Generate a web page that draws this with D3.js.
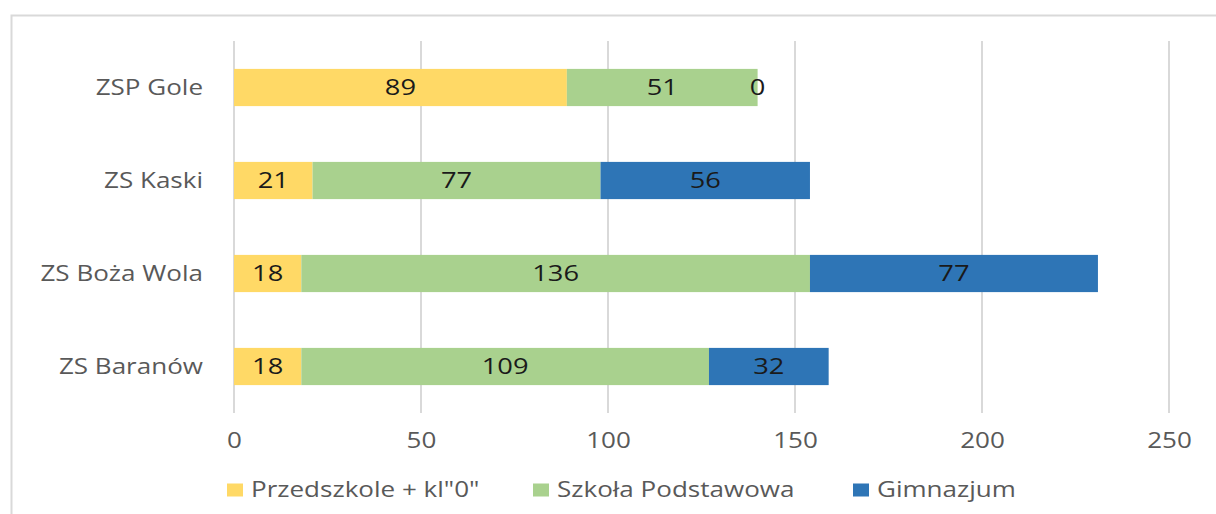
<!DOCTYPE html>
<html>
<head>
<meta charset="utf-8">
<script src="https://cdn.jsdelivr.net/npm/d3@7"></script>
<style>
  body { margin: 0; background: #fff; }
  svg text { font-family: "Open Sans", "Noto Sans", sans-serif; }
</style>
</head>
<body>
<svg width="1216" height="514"></svg>
<script>
// data
var schools = ["ZSP Gole", "ZS Kaski", "ZS Boża Wola", "ZS Baranów"];
var seriesNames = ["Przedszkole + kl\"0\"", "Szkoła Podstawowa", "Gimnazjum"];
var przedszkole = [89, 21, 18, 18];
var podstawowa = [51, 77, 136, 109];
var gimnazjum = [0, 56, 77, 32];
var ticks = [0, 50, 100, 150, 200, 250];
var colors = ["#FFD966", "#A9D18E", "#2E75B6"];

var svg = d3.select("svg"),
    width = +svg.attr("width"),
    height = +svg.attr("height");

// text in the original is stretched sideways
var sx = 1.24;

// chart frame
svg.append("path")
  .attr("d", "M11.5,514 L11.5,15.5 L1216,15.5")
  .attr("fill", "none")
  .attr("stroke", "#d9d9d9")
  .attr("stroke-width", 2);

var x = d3.scaleLinear().domain([0, 250]).range([234, 1169]);
var y = d3.scaleBand().domain(schools).range([41, 413]).paddingInner(0.6).paddingOuter(0.3);

// gridlines
svg.append("g")
  .selectAll("line")
  .data(ticks)
  .enter()
  .append("line")
    .attr("x1", function(d){ return x(d) })
    .attr("x2", function(d){ return x(d) })
    .attr("y1", 41)
    .attr("y2", 413)
    .attr("stroke", "#d9d9d9")
    .attr("stroke-width", 2);

// x axis labels
var xAxis = d3.axisBottom(x).tickValues(ticks).tickSize(0).tickPadding(0);
var gx = svg.append("g").attr("transform", "translate(0,448)").call(xAxis);
gx.select(".domain").remove();
gx.selectAll("text")
  .attr("y", 0)
  .attr("dy", 0)
  .attr("font-size", 21)
  .attr("font-family", "Open Sans")
  .attr("fill", "#595959")
  .attr("transform", "scale(" + sx + ",1)");

// y axis labels
var yAxis = d3.axisLeft(y).tickSize(0).tickPadding(0);
var gy = svg.append("g").attr("transform", "translate(203,0)").call(yAxis);
gy.select(".domain").remove();
gy.selectAll("text")
  .attr("x", 0)
  .attr("dy", "0.35em")
  .attr("font-size", 21)
  .attr("font-family", "Open Sans")
  .attr("fill", "#595959")
  .attr("transform", "scale(" + sx + ",1)");

// stacked bars
var rows = schools.map(function(s, i){
  return {school: s, a: przedszkole[i], b: podstawowa[i], c: gimnazjum[i]};
});
var stack = d3.stack().keys(["a", "b", "c"]);
var layers = stack(rows);

var layer = svg.append("g")
  .selectAll("g")
  .data(layers)
  .enter()
  .append("g")
    .attr("fill", function(d, i){ return colors[i] });

layer.selectAll("rect")
  .data(function(d){ return d })
  .enter()
  .append("rect")
    .attr("x", function(d){ return x(d[0]) })
    .attr("y", function(d){ return y(d.data.school) })
    .attr("width", function(d){ return x(d[1]) - x(d[0]) })
    .attr("height", y.bandwidth());

// data labels
layer.selectAll("text")
  .data(function(d){ return d })
  .enter()
  .append("text")
    .attr("transform", function(d){
      return "translate(" + (x(d[0]) + x(d[1])) / 2 + "," + (y(d.data.school) + y.bandwidth() / 2) + ") scale(" + sx + ",1)";
    })
    .attr("dy", "0.36em")
    .attr("text-anchor", "middle")
    .attr("font-size", 22)
    .attr("fill", "#1a1a1a")
    .text(function(d){ return d[1] - d[0] });

// legend
var legendX = [227, 533, 853];
var legend = svg.append("g")
  .selectAll("g")
  .data(seriesNames)
  .enter()
  .append("g")
    .attr("transform", function(d, i){ return "translate(" + legendX[i] + ",490)" });
legend.append("rect")
  .attr("x", 0).attr("y", -6.5)
  .attr("width", 16).attr("height", 13)
  .attr("fill", function(d, i){ return colors[i] });
legend.append("text")
  .attr("transform", "translate(24,0) scale(" + sx + ",1)")
  .attr("dy", "0.35em")
  .attr("font-size", 21)
  .attr("fill", "#595959")
  .text(function(d){ return d });
</script>
</body>
</html>
